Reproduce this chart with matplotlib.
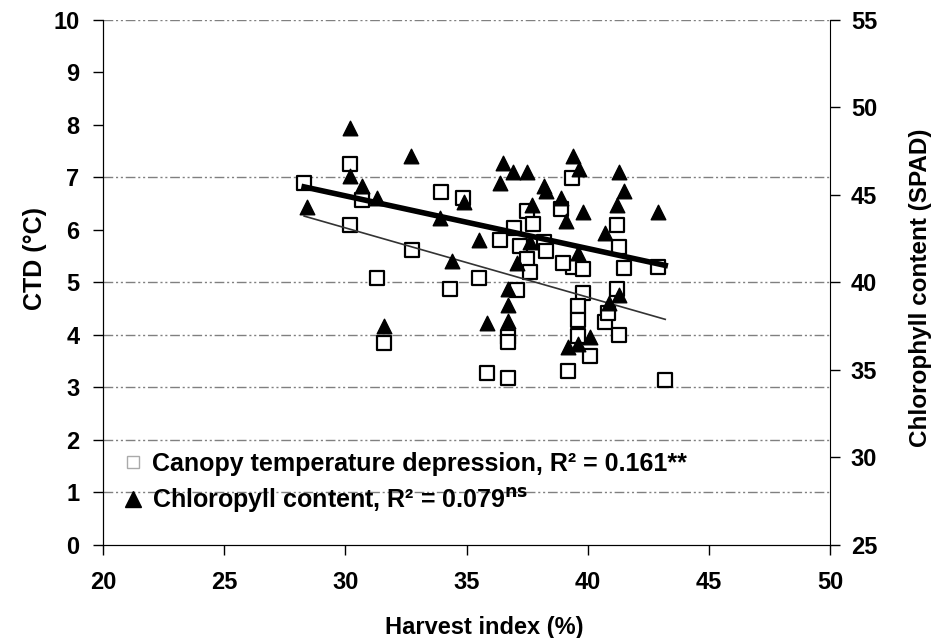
import numpy as np
import matplotlib.pyplot as plt
from matplotlib.lines import Line2D

plt.rcParams['font.family'] = ['Liberation Sans', 'DejaVu Sans']

# Canopy temperature depression (CTD) vs harvest index
hi_ctd = [28.3, 30.2, 30.2, 30.7, 31.3, 31.6, 32.75, 33.95, 34.86, 34.3,
          35.5, 35.85, 36.4, 36.95, 37.5, 37.75, 37.2, 38.2, 38.3, 37.5,
          37.6, 37.1, 36.7, 36.7, 36.7, 39.8, 39.6, 39.6, 39.6, 40.1,
          39.2, 41.2, 40.7, 41.3, 40.85, 39.4, 39.8, 41.5, 42.9, 39.35,
          38.9, 41.2, 41.3, 39.0, 43.2]
ctd = [6.9, 7.26, 6.1, 6.57, 5.09, 3.85, 5.62, 6.72, 6.61, 4.88,
       5.09, 3.28, 5.81, 6.04, 6.36, 6.11, 5.7, 5.77, 5.6, 5.45,
       5.2, 4.86, 3.96, 3.87, 3.18, 4.8, 4.55, 4.29, 3.98, 3.6,
       3.31, 4.87, 4.25, 4.0, 4.42, 5.3, 5.26, 5.28, 5.3, 6.99,
       6.4, 6.1, 5.68, 5.37, 3.14]

# Chlorophyll content (SPAD) vs harvest index
hi_spad = [28.4, 30.2, 30.2, 30.7, 31.3, 32.7, 31.6, 33.9, 34.4, 35.5,
           35.85, 36.5, 36.9, 37.5, 36.4, 38.2, 38.3, 37.7, 37.6, 37.1,
           36.7, 36.7, 36.7, 38.9, 39.4, 39.65, 39.8, 39.1, 41.3, 41.5,
           41.2, 42.9, 40.7, 39.6, 39.2, 39.6, 40.1, 40.9, 41.3, 34.9]
spad = [44.3, 48.8, 46.1, 45.5, 44.8, 47.2, 37.5, 43.7, 41.2, 42.4,
        37.7, 46.8, 46.3, 46.3, 45.7, 45.5, 45.2, 44.4, 42.3, 41.1,
        39.6, 38.7, 37.8, 44.8, 47.2, 46.5, 44.0, 43.5, 46.3, 45.2,
        44.4, 44.0, 42.8, 41.7, 36.3, 36.5, 36.9, 38.8, 39.3, 44.6]

# linear trend lines as drawn in the original (slope, intercept)
fit_ctd = (-0.132, 10.0)
fit_spad = (-0.301, 53.98)

lbl_ctd = 'Canopy temperature depression, R² = 0.161**'
lbl_spad = 'Chloropyll content, R² = 0.079$^{\\mathbf{ns}}$'

fig = plt.figure(figsize=(9.4, 6.38), dpi=100)
ax = fig.add_axes([0.1096, 0.1458, 0.7734, 0.8229])
ax2 = ax.twinx()

ax.set_xlim(20, 50)
ax.set_ylim(0, 10)
ax2.set_ylim(25, 55)

# gridlines (only some of them survive in the original)
for g in [1, 2, 3, 4, 5, 7, 10]:
    ax.axhline(g, color='#808080', lw=1, dashes=(7, 2, 1.5, 2, 1.5, 2), zorder=0)

ax.scatter(hi_ctd, ctd, marker='s', s=110, facecolors='white',
           edgecolors='black', linewidths=1.6, zorder=3)
ax2.scatter(hi_spad, spad, marker='^', s=110, color='black', zorder=2)

x1 = np.array([min(hi_ctd), max(hi_ctd)])
ax.plot(x1, fit_ctd[0] * x1 + fit_ctd[1], color='#333333', lw=1.2, zorder=4)
x2 = np.array([min(hi_ctd), max(hi_ctd)])
ax2.plot(x2, fit_spad[0] * x2 + fit_spad[1], color='black', lw=4, zorder=4)

ax.set_xticks(range(20, 51, 5))
ax.set_yticks(range(0, 11))
ax2.set_yticks(range(25, 56, 5))
ax.tick_params(axis='both', direction='out', length=7, width=1, labelsize=17, pad=10)
ax.tick_params(axis='x', pad=12)
ax2.tick_params(axis='y', direction='out', length=7, width=1, labelsize=17, pad=8)
for t in ax.get_xticklabels() + ax.get_yticklabels() + ax2.get_yticklabels():
    t.set_fontweight('bold')

for a in (ax, ax2):
    a.spines['top'].set_visible(False)
ax.spines['right'].set_visible(False)

ax.set_xlabel('Harvest index (%)', fontsize=17, fontweight='bold')
ax.set_ylabel('CTD (°C)', fontsize=18, fontweight='bold')
ax2.set_ylabel('Chlorophyll content (SPAD)', fontsize=17.5, fontweight='bold',
               rotation=90)
ax.xaxis.set_label_coords(0.525, -0.135)
ax.yaxis.set_label_coords(-0.077, 0.545)
ax2.yaxis.set_label_coords(1.108, 0.49)

handles = [
    Line2D([], [], marker='s', ls='none', mfc='white', mec='#aaaaaa', ms=8, mew=1),
    Line2D([], [], marker='^', ls='none', color='black', ms=11),
]
ax.legend(handles, [lbl_ctd, lbl_spad], loc='upper left',
          bbox_to_anchor=(0.0, 0.21), frameon=False, handletextpad=0.25,
          handlelength=1.0, labelspacing=0.4, borderaxespad=0.3,
          prop={'size': 18, 'weight': 'bold'})

fig.savefig('out.png', dpi=100)
